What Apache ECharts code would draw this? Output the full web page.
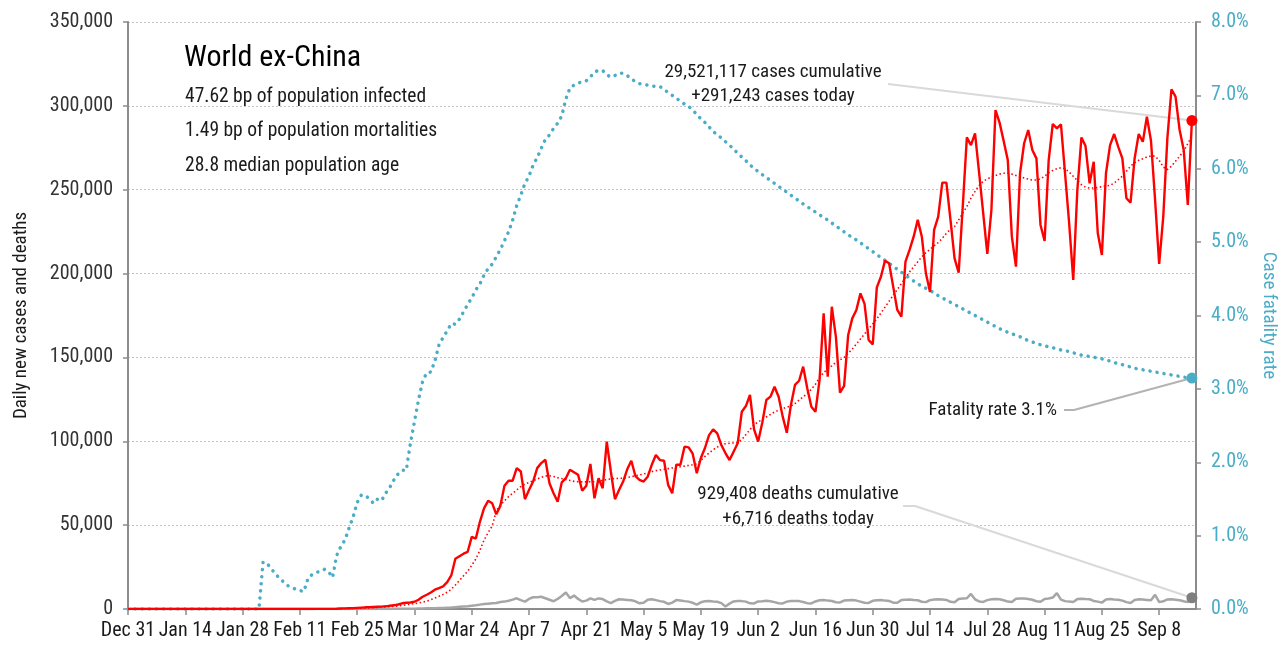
<!DOCTYPE html>
<html>
<head>
<meta charset="utf-8">
<title>World ex-China</title>
<script src="https://cdn.jsdelivr.net/npm/echarts@6/dist/echarts.min.js"></script>
<style>
  html, body { margin: 0; padding: 0; background: #fff; }
  #chart { width: 1283px; height: 649px; }
</style>
</head>
<body>
<div id="chart"></div>
<script>
// daily axis: Dec 31 2019 .. Sep 17 2020 (data ends Sep 16)
var MONTHS = ['Jan', 'Feb', 'Mar', 'Apr', 'May', 'Jun', 'Jul', 'Aug', 'Sep', 'Oct', 'Nov', 'Dec'];
var dayCount = 262;
var days = [];
for (var k = 0; k < dayCount; k++) {
  var dt = new Date(Date.UTC(2019, 11, 31 + k));
  days.push(MONTHS[dt.getUTCMonth()] + ' ' + dt.getUTCDate());
}

// daily new cases, world ex-China
var dailyCases = [
  0, 0, 0, 0, 0, 0, 0, 0, 0, 0,
  0, 0, 0, 1, 0, 0, 0, 0, 1, 2,
  3, 4, 5, 8, 10, 15, 20, 20, 25, 30,
  35, 40, 30, 25, 30, 40, 35, 40, 30, 30,
  25, 30, 35, 40, 45, 40, 50, 60, 55, 70,
  80, 150, 300, 350, 450, 500, 700, 850, 1000, 1100,
  1200, 1300, 1400, 1600, 1900, 2200, 2700, 3400, 3700, 3900,
  4300, 5500, 7300, 8500, 9800, 11500, 12500, 13500, 16000, 20000,
  30000, 31500, 33000, 34000, 43000, 42000, 52000, 60000, 64500, 63000,
  56500, 61500, 73500, 76500, 76500, 84000, 82000, 65500, 71000, 76000,
  84000, 87000, 89000, 75000, 69000, 64000, 75500, 78000, 83000, 81500,
  80000, 70500, 73500, 86500, 66000, 78000, 72000, 99800, 82000, 65500,
  71000, 76000, 83300, 88400, 79300, 77000, 76000, 78900, 86000, 91800,
  88800, 88400, 74000, 69000, 86000, 86000, 96800, 96400, 92600, 81000,
  90000, 96000, 103700, 107100, 104700, 97800, 93000, 88800, 93800, 98800,
  117600, 121000, 127600, 107100, 99800, 111100, 124600, 126600, 132500, 126600,
  114700, 105100, 121600, 133600, 136100, 144500, 131600, 120600, 117600, 136500,
  176300, 138500, 180200, 162300, 129000, 133000, 163400, 173300, 178300, 188200,
  181900, 160400, 157800, 191800, 198100, 207700, 206100, 192200, 178300, 174300,
  207100, 214100, 222000, 232000, 222000, 200000, 189000, 226000, 234000, 254200,
  254200, 232000, 209100, 200500, 240000, 281200, 276600, 283600, 260000, 235900,
  211700, 237900, 297500, 290000, 279000, 267700, 222000, 204100, 259800, 277700,
  285600, 273700, 268700, 229000, 219400, 267700, 289200, 286600, 289000, 259800,
  230000, 196200, 249800, 281200, 276000, 253800, 266700, 224000, 211100, 259800,
  276600, 283200, 275600, 268700, 244900, 242300, 268700, 283200, 278600, 293500,
  279200, 243900, 205700, 233900, 280600, 309900, 305500, 285600, 273700, 240900,
  291243
];

// 7-day average of new cases (dotted red)
var avgCases = [
  0, 0, 0, 0, 0, 0, 0, 0, 0, 0,
  0, 0, 0, 0, 0, 0, 0, 0, 0, 0,
  1, 2, 3, 4, 6, 8, 10, 12, 15, 18,
  22, 25, 28, 30, 32, 34, 35, 36, 35, 34,
  33, 33, 34, 36, 38, 40, 43, 47, 50, 55,
  60, 75, 110, 150, 210, 280, 370, 470, 580, 700,
  820, 950, 1080, 1220, 1400, 1600, 1850, 2150, 2500, 2850,
  3200, 3550, 4050, 4700, 5500, 6500, 7600, 8700, 10000, 11700,
  14300, 17000, 19800, 22500, 26000, 29800, 35000, 41000, 45500, 49500,
  58500, 62000, 64500, 67000, 69000, 71000, 73000, 74500, 75500, 76500,
  77500, 78500, 79300, 79500, 79000, 78300, 77800, 77200, 76600, 76100,
  75900, 75800, 75800, 75900, 75900, 76200, 76700, 77200, 77600, 77800,
  77900, 78000, 78400, 78900, 79400, 79900, 80500, 81200, 81900, 82500,
  82900, 83300, 83700, 84100, 84500, 84800, 85200, 85600, 86000, 86500,
  88500, 91000, 93000, 95000, 96500, 98000, 98500, 98800, 99000, 99200,
  101000, 104000, 107000, 110000, 111500, 113000, 114500, 116000, 117500, 118500,
  119500, 120300, 121000, 122500, 124500, 126500, 128500, 131000, 134000, 138000,
  141000, 143000, 145000, 147000, 148500, 150000, 152500, 155000, 158000, 161000,
  164000, 167000, 170000, 173000, 176500, 180000, 183500, 187000, 190500, 194000,
  197500, 201000, 204000, 207000, 210000, 212500, 214500, 216500, 218500, 221000,
  224000, 226500, 228000, 232000, 236000, 240000, 245000, 249000, 252500, 255000,
  256500, 257500, 258500, 259300, 259800, 259800, 259300, 258500, 257700, 257000,
  256300, 255800, 255800, 256500, 258000, 260000, 261500, 262500, 263100, 262500,
  260500, 258000, 255500, 253000, 251500, 251000, 251000, 251300, 251800, 252200,
  252600, 254000, 256000, 258000, 261000, 264000, 266000, 267500, 268500, 269500,
  270100, 270000, 267500, 263500, 262000, 264000, 267000, 270000, 273000, 277500,
  282000
];

// daily deaths, world ex-China
var dailyDeaths = [
  0, 0, 0, 0, 0, 0, 0, 0, 0, 0,
  0, 0, 0, 0, 0, 0, 0, 0, 0, 0,
  0, 0, 0, 0, 0, 0, 0, 0, 0, 0,
  0, 0, 0, 1, 0, 0, 0, 0, 0, 0,
  0, 1, 0, 1, 0, 1, 1, 2, 1, 2,
  2, 3, 5, 8, 10, 12, 15, 15, 20, 25,
  30, 40, 45, 55, 70, 80, 100, 110, 140, 180,
  200, 270, 320, 380, 420, 500, 600, 650, 800, 900,
  1100, 1300, 1500, 1700, 2000, 2200, 2600, 3000, 3200, 3400,
  3600, 4200, 4400, 4900, 5600, 6400, 5300, 4400, 6000, 7000,
  7000, 7300, 6400, 5500, 4600, 6000, 7800, 9800, 6500, 8000,
  6000, 4500, 5000, 6300, 5400, 6300, 5900, 4500, 3500, 4800,
  5800, 5600, 5400, 5200, 4600, 3400, 3700, 5500, 5800, 5300,
  4700, 4300, 3000, 3800, 5300, 5100, 4700, 4400, 3700, 2600,
  4000, 4600, 4800, 4500, 4300, 3500, 1500, 3200, 4500, 4700,
  4700, 4400, 3400, 3300, 4500, 4600, 4900, 4600, 4100, 3400,
  3300, 4400, 4800, 4800, 4700, 4200, 3500, 3300, 4500, 5200,
  5400, 5000, 4800, 4000, 3900, 5000, 5200, 5300, 5000, 4400,
  3700, 3600, 4900, 5200, 5400, 5000, 4800, 3800, 3700, 5300,
  5500, 5600, 5300, 5200, 4300, 4100, 5300, 5700, 5800, 5600,
  5400, 4300, 4000, 6000, 6200, 6400, 9000, 5800, 4500, 4200,
  5300, 5800, 6000, 5800, 5200, 4400, 4200, 6100, 6300, 6200,
  6000, 5500, 4600, 4300, 6000, 6300, 6800, 9500, 5600, 4700,
  4400, 4200, 5900, 6100, 5900, 5800, 4800, 4400, 3800, 5600,
  6000, 5700, 5500, 5000, 4100, 3600, 5400, 5800, 5600, 5400,
  5200, 8500, 4100, 4600, 5700, 5800, 5500, 5200, 4600, 4100,
  6716
];

// case fatality rate, percent (right axis)
var fatalityRate = [
  0, 0, 0, 0, 0, 0, 0, 0, 0, 0,
  0, 0, 0, 0, 0, 0, 0, 0, 0, 0,
  0, 0, 0, 0, 0, 0, 0, 0, 0, 0,
  0, 0, 0, 0.64, 0.62, 0.55, 0.48, 0.42, 0.37, 0.32,
  0.29, 0.27, 0.25, 0.24, 0.42, 0.47, 0.50, 0.51, 0.54, 0.51,
  0.43, 0.73, 0.85, 0.94, 1.10, 1.25, 1.45, 1.55, 1.55, 1.50,
  1.44, 1.50, 1.48, 1.58, 1.66, 1.76, 1.84, 1.89, 1.89, 2.25,
  2.55, 2.85, 3.10, 3.22, 3.23, 3.38, 3.60, 3.70, 3.79, 3.89,
  3.88, 3.95, 4.05, 4.15, 4.24, 4.35, 4.43, 4.55, 4.64, 4.70,
  4.80, 4.90, 5.02, 5.14, 5.30, 5.50, 5.64, 5.80, 5.90, 6.05,
  6.15, 6.28, 6.40, 6.46, 6.55, 6.62, 6.72, 6.95, 7.10, 7.14,
  7.17, 7.18, 7.20, 7.25, 7.32, 7.34, 7.34, 7.28, 7.25, 7.27,
  7.30, 7.30, 7.27, 7.22, 7.19, 7.16, 7.15, 7.14, 7.13, 7.12,
  7.12, 7.08, 7.04, 7.00, 6.96, 6.92, 6.88, 6.85, 6.80, 6.74,
  6.68, 6.63, 6.57, 6.51, 6.46, 6.42, 6.37, 6.32, 6.27, 6.21,
  6.16, 6.11, 6.05, 6.01, 5.96, 5.92, 5.88, 5.84, 5.80, 5.76,
  5.72, 5.68, 5.64, 5.60, 5.56, 5.52, 5.48, 5.45, 5.41, 5.37,
  5.34, 5.30, 5.26, 5.22, 5.18, 5.14, 5.10, 5.06, 5.03, 4.99,
  4.95, 4.91, 4.87, 4.83, 4.79, 4.75, 4.71, 4.67, 4.63, 4.59,
  4.55, 4.51, 4.47, 4.43, 4.40, 4.37, 4.34, 4.31, 4.27, 4.24,
  4.21, 4.18, 4.15, 4.12, 4.09, 4.06, 4.03, 4.00, 3.97, 3.94,
  3.91, 3.88, 3.85, 3.82, 3.80, 3.77, 3.75, 3.73, 3.71, 3.68,
  3.66, 3.64, 3.62, 3.60, 3.59, 3.57, 3.56, 3.55, 3.53, 3.52,
  3.51, 3.49, 3.48, 3.46, 3.45, 3.44, 3.43, 3.42, 3.41, 3.39,
  3.38, 3.36, 3.34, 3.33, 3.31, 3.30, 3.28, 3.27, 3.26, 3.25,
  3.24, 3.23, 3.22, 3.21, 3.20, 3.19, 3.18, 3.17, 3.16, 3.15,
  3.148
];

var statLines = [
  '47.62 bp of population infected',
  '1.49 bp of population mortalities',
  '28.8 median population age'
];

var FONT = "'Roboto Condensed', sans-serif";
var INK = '#1a1a1a';
var RED = '#ff0000';
var BLUE = '#4bacc6';
var GREY = '#a6a6a6';
var AXIS = '#8c8c8c';

var last = dailyCases.length - 1;
var lastDay = days[last];

function fmtThousands (v) {
  return String(v).replace(/\B(?=(\d{3})+(?!\d))/g, ',');
}
// a date label and tick every 14 days from Dec 31
function everyTwoWeeks (index) {
  return index % 14 === 0;
}

var chart = echarts.init(document.getElementById('chart'), null, { renderer: 'canvas' });

var option = {
  animation: false,
  backgroundColor: '#fff',
  textStyle: { fontFamily: FONT },
  title: {
    text: 'World ex-China',
    left: 179,
    top: 38,
    textStyle: { fontFamily: FONT, fontSize: 30, fontWeight: 'normal', color: '#000' }
  },
  grid: { left: 128, right: 87, top: 22, bottom: 40, containLabel: false, outerBoundsMode: 'none' },
  xAxis: {
    type: 'category',
    data: days,
    boundaryGap: false,
    axisLine: { lineStyle: { color: AXIS, width: 2 } },
    axisTick: { interval: everyTwoWeeks, length: 6, lineStyle: { color: AXIS, width: 1.5 } },
    axisLabel: {
      interval: everyTwoWeeks, margin: 12, fontSize: 20, color: INK, fontFamily: FONT,
      hideOverlap: false
    },
    splitLine: { show: false }
  },
  yAxis: [
    {
      type: 'value',
      min: 0,
      max: 350000,
      interval: 50000,
      name: 'Daily new cases and deaths',
      nameLocation: 'middle',
      nameGap: 97,
      nameTextStyle: { fontSize: 19, color: INK, fontFamily: FONT },
      axisLine: { show: true, lineStyle: { color: AXIS, width: 2 } },
      axisTick: { show: true, length: 5, lineStyle: { color: AXIS, width: 1.5 } },
      axisLabel: { margin: 15, fontSize: 20, color: '#333', fontFamily: FONT, formatter: fmtThousands },
      splitLine: { show: true, lineStyle: { color: '#c4c4c4', type: [2, 2], width: 1 } }
    },
    {
      type: 'value',
      min: 0,
      max: 8,
      interval: 1,
      position: 'right',
      name: 'Case fatality rate',
      nameLocation: 'middle',
      nameRotate: -90,
      nameGap: 58,
      nameTextStyle: { fontSize: 19, color: BLUE, fontFamily: FONT },
      axisLine: { show: true, lineStyle: { color: AXIS, width: 2 } },
      axisTick: { show: true, length: 5, lineStyle: { color: AXIS, width: 1.5 } },
      axisLabel: {
        margin: 15, fontSize: 20, color: BLUE, fontFamily: FONT,
        formatter: function (v) { return v.toFixed(1) + '%'; }
      },
      splitLine: { show: false }
    }
  ],
  series: [
    {
      name: 'Case fatality rate',
      type: 'line',
      yAxisIndex: 1,
      data: fatalityRate,
      showSymbol: false,
      z: 2,
      lineStyle: { color: BLUE, width: 3.5, type: [0.1, 7], cap: 'round' },
      markPoint: {
        symbol: 'circle', symbolSize: 11, silent: true,
        itemStyle: { color: BLUE },
        label: { show: false },
        data: [{ coord: [lastDay, fatalityRate[last]] }]
      },
      markLine: {
        symbol: 'none', silent: true,
        label: { show: false },
        lineStyle: { color: '#b3b3b3', type: 'solid', width: 2 },
        data: [
          [{ x: 1064, y: 410 }, { x: 1074, y: 410 }],
          [{ x: 1074, y: 410 }, { coord: [lastDay, fatalityRate[last]] }]
        ]
      }
    },
    {
      name: 'Daily deaths',
      type: 'line',
      data: dailyDeaths,
      showSymbol: false,
      z: 3,
      lineStyle: { color: GREY, width: 2.5 },
      markPoint: {
        symbol: 'circle', symbolSize: 11, silent: true,
        itemStyle: { color: '#7f7f7f' },
        label: { show: false },
        data: [{ coord: [lastDay, dailyDeaths[last]] }]
      },
      markLine: {
        symbol: 'none', silent: true,
        label: { show: false },
        lineStyle: { color: '#d9d9d9', type: 'solid', width: 2 },
        data: [
          [{ x: 903, y: 506 }, { x: 915, y: 506 }],
          [{ x: 915, y: 506 }, { coord: [lastDay, dailyDeaths[last]] }]
        ]
      }
    },
    {
      name: '7-day average',
      type: 'line',
      data: avgCases,
      showSymbol: false,
      z: 4,
      lineStyle: { color: RED, width: 1.6, type: [1.5, 2.5] }
    },
    {
      name: 'Daily new cases',
      type: 'line',
      data: dailyCases,
      showSymbol: false,
      z: 5,
      lineStyle: { color: RED, width: 2.4 },
      markPoint: {
        symbol: 'circle', symbolSize: 11, silent: true,
        itemStyle: { color: RED },
        label: { show: false },
        data: [{ coord: [lastDay, dailyCases[last]] }]
      },
      markLine: {
        symbol: 'none', silent: true,
        label: { show: false },
        lineStyle: { color: '#d9d9d9', type: 'solid', width: 2 },
        data: [
          [{ x: 888, y: 84 }, { coord: [lastDay, dailyCases[last]] }]
        ]
      }
    }
  ],
  graphic: [
    { type: 'text', x: 185, y: 97, style: { text: statLines[0], font: '19.5px ' + FONT, fill: INK, textVerticalAlign: 'middle' } },
    { type: 'text', x: 185, y: 131, style: { text: statLines[1], font: '19.5px ' + FONT, fill: INK, textVerticalAlign: 'middle' } },
    { type: 'text', x: 185, y: 166, style: { text: statLines[2], font: '19.5px ' + FONT, fill: INK, textVerticalAlign: 'middle' } },
    { type: 'text', x: 773, y: 72, style: { text: '29,521,117 cases cumulative', font: '19px ' + FONT, fill: INK, textAlign: 'center', textVerticalAlign: 'middle' } },
    { type: 'text', x: 773, y: 96, style: { text: '+291,243 cases today', font: '19px ' + FONT, fill: INK, textAlign: 'center', textVerticalAlign: 'middle' } },
    { type: 'text', x: 1057, y: 410, style: { text: 'Fatality rate 3.1%', font: '19px ' + FONT, fill: INK, textAlign: 'right', textVerticalAlign: 'middle' } },
    { type: 'text', x: 798, y: 494, style: { text: '929,408 deaths cumulative', font: '19px ' + FONT, fill: INK, textAlign: 'center', textVerticalAlign: 'middle' } },
    { type: 'text', x: 798, y: 519, style: { text: '+6,716 deaths today', font: '19px ' + FONT, fill: INK, textAlign: 'center', textVerticalAlign: 'middle' } }
  ]
};

chart.setOption(option);
</script>
</body>
</html>
